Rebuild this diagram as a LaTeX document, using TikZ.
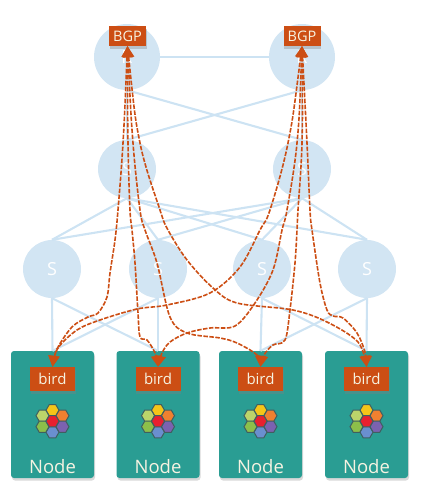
\documentclass[tikz,border=0pt]{standalone}
\usepackage{fontspec}
\setmainfont{Open Sans}
\usepackage{color}
\definecolor{fabric}{HTML}{D2E5F3}
\definecolor{wire}{HTML}{CDE3F3}
\definecolor{teal}{HTML}{2A9D93}
\definecolor{rust}{HTML}{CC4E14}
\definecolor{cream}{HTML}{F6F3E2}
\definecolor{hexline}{HTML}{3F5F60}
\definecolor{hexred}{HTML}{E8202F}
\definecolor{hexyellow}{HTML}{F5C518}
\definecolor{hexblue}{HTML}{6A8FCF}
\definecolor{hexlime}{HTML}{BCD46A}
\definecolor{hexorange}{HTML}{F08030}
\definecolor{hexgreen}{HTML}{8CBF4A}
\definecolor{hexpurple}{HTML}{7B62B0}
\usetikzlibrary{arrows.meta,positioning,shapes.geometric,shadows}
\tikzset{
	router/.style={
		circle, fill=fabric, text=white, inner sep=0pt,
		font=\fontsize{18}{18}\selectfont
	},
	pod/.style={
		rectangle, rounded corners=3pt, fill=teal,
		minimum width=83pt, minimum height=127pt, inner sep=0pt,
		drop shadow={shadow xshift=1pt,shadow yshift=-2.5pt,opacity=.3}
	},
	tag/.style={
		rectangle, fill=rust, text=cream, inner sep=0pt,
		drop shadow={shadow xshift=.5pt,shadow yshift=-2.5pt,opacity=.35}
	},
	hexcell/.style={
		regular polygon, regular polygon sides=6, draw=hexline,
		line width=1pt, minimum size=13pt, inner sep=0pt
	},
}

\begin{document}
\begin{tikzpicture}[x=1pt,y=-1pt,
			fabric_link/.style={wire, line width=2.1pt},
			bgp_link/.style={
				{Triangle[width=11pt,length=11pt]}-{Triangle[width=11pt,length=11pt]},
				rust, line width=1.6pt, dash pattern=on 4.5pt off 1.5pt
			}]
		\useasboundingbox (0,0) rectangle (428,493);
		\node[router,minimum size=66pt] (r1) at (127,57) {R};
		\node[router,minimum size=66pt] (r2) at (302,57) {R};
		\node[router,minimum size=58pt] (t1) at (127,169) {S};
		\node[router,minimum size=58pt] (t2) at (302,169) {S};
		\foreach \n/\x in {1/52,2/158,3/262,4/367}
			\node[router,minimum size=58pt] (s\n) at (\x,269) {S};
		\foreach \n/\x in {1/52.5,2/158,3/260.5,4/366.5}
			\node[pod] (pod\n) at (\x,414.5) {};

		\draw[fabric_link] (r1) -- (r2);
		\draw[fabric_link] (r1.south) -- (t1.north);
		\draw[fabric_link] (r2.south) -- (t2.north);
		\draw[fabric_link] (r1.south) -- (t2.north);
		\draw[fabric_link] (r2.south) -- (t1.north);
		\foreach \n in {1,2,3,4} {
			\draw[fabric_link] (t1.south) -- (s\n.north);
			\draw[fabric_link] (t2.south) -- (s\n.north);
		}
		\draw[fabric_link] (s1.south) -- (pod1.north);
		\draw[fabric_link] (s1.south) -- (pod2.north);
		\draw[fabric_link] (s2.south) -- (pod1.north);
		\draw[fabric_link] (s2.south) -- (pod2.north);
		\draw[fabric_link] (s3.south) -- (pod3.north);
		\draw[fabric_link] (s3.south) -- (pod4.north);
		\draw[fabric_link] (s4.south) -- (pod3.north);
		\draw[fabric_link] (s4.south) -- (pod4.north);

		\foreach \n in {1,2,3,4} {
			\node[tag,minimum width=45pt,minimum height=24pt,font=\fontsize{15}{15}\selectfont,
				below=16pt of pod\n.north] (bird\n) {bird};
			\node[text=cream,font=\fontsize{18.5}{18.5}\selectfont,
				above=1pt of pod\n.south] (name\n) {Node};
			\coordinate[below=30pt of bird\n.south] (hexo\n);
			\node[hexcell,fill=hexyellow] (hext\n) at ([yshift=11pt]hexo\n) {};
			\node[hexcell,fill=hexblue] (hexb\n) at ([yshift=-11pt]hexo\n) {};
			\node[hexcell,fill=hexlime] (hexl\n) at ([shift={(-10pt,5.5pt)}]hexo\n) {};
			\node[hexcell,fill=hexorange] (hexr\n) at ([shift={(10pt,5.5pt)}]hexo\n) {};
			\node[hexcell,fill=hexgreen] (hexd\n) at ([shift={(-10pt,-5.5pt)}]hexo\n) {};
			\node[hexcell,fill=hexpurple] (hexe\n) at ([shift={(10pt,-5.5pt)}]hexo\n) {};
			\node[hexcell,fill=hexred] (hexc\n) at (hexo\n) {};
		}
		\node[tag,minimum width=37pt,minimum height=20pt,font=\fontsize{14.5}{14.5}\selectfont] (bgp1) at (127.5,36) {BGP};
		\node[tag,minimum width=37pt,minimum height=20pt,font=\fontsize{14.5}{14.5}\selectfont] (bgp2) at (302,36) {BGP};

		\draw[bgp_link] plot[smooth,tension=.55] coordinates {(bgp1.south) (123,143) (118,210) (115,240) (110,273) (107,297) (98,313) (88,317) (72,327) (57,349) (bird1.north)};
		\draw[bgp_link] plot[smooth,tension=.55] coordinates {(bgp1.south) (128,143) (130,210) (132,230) (135,263) (138,313) (140,337) (147,340) (155,353) (bird2.north)};
		\draw[bgp_link] plot[smooth,tension=.55] coordinates {(bgp1.south) (133,143) (140,210) (145,230) (157,263) (170,317) (187,333) (220,338) (237,343) (257,355) (bird3.north)};
		\draw[bgp_link] plot[smooth,tension=.55] coordinates {(bgp1.south) (140,143) (160,210) (168,230) (187,260) (213,288) (237,303) (293,310) (327,322) (358,342) (bird4.north)};
		\draw[bgp_link] plot[smooth,tension=.55] coordinates {(bgp2.south) (288,143) (270,210) (260,230) (240,267) (210,293) (167,305) (137,309) (100,320) (77,330) (58,348) (bird1.north)};
		\draw[bgp_link] plot[smooth,tension=.55] coordinates {(bgp2.south) (297,143) (287,210) (282,230) (273,270) (255,303) (235,326) (210,328) (187,333) (170,342) (162,353) (bird2.north)};
		\draw[bgp_link] plot[smooth,tension=.55] coordinates {(bgp2.south) (302,143) (298,210) (297,230) (295,263) (290,310) (285,340) (273,345) (264,355) (bird3.north)};
		\draw[bgp_link] plot[smooth,tension=.55] coordinates {(bgp2.south) (307,143) (310,210) (312,230) (320,283) (327,310) (333,316) (343,318) (357,333) (365,352) (bird4.north)};
	\end{tikzpicture}
\end{document}
